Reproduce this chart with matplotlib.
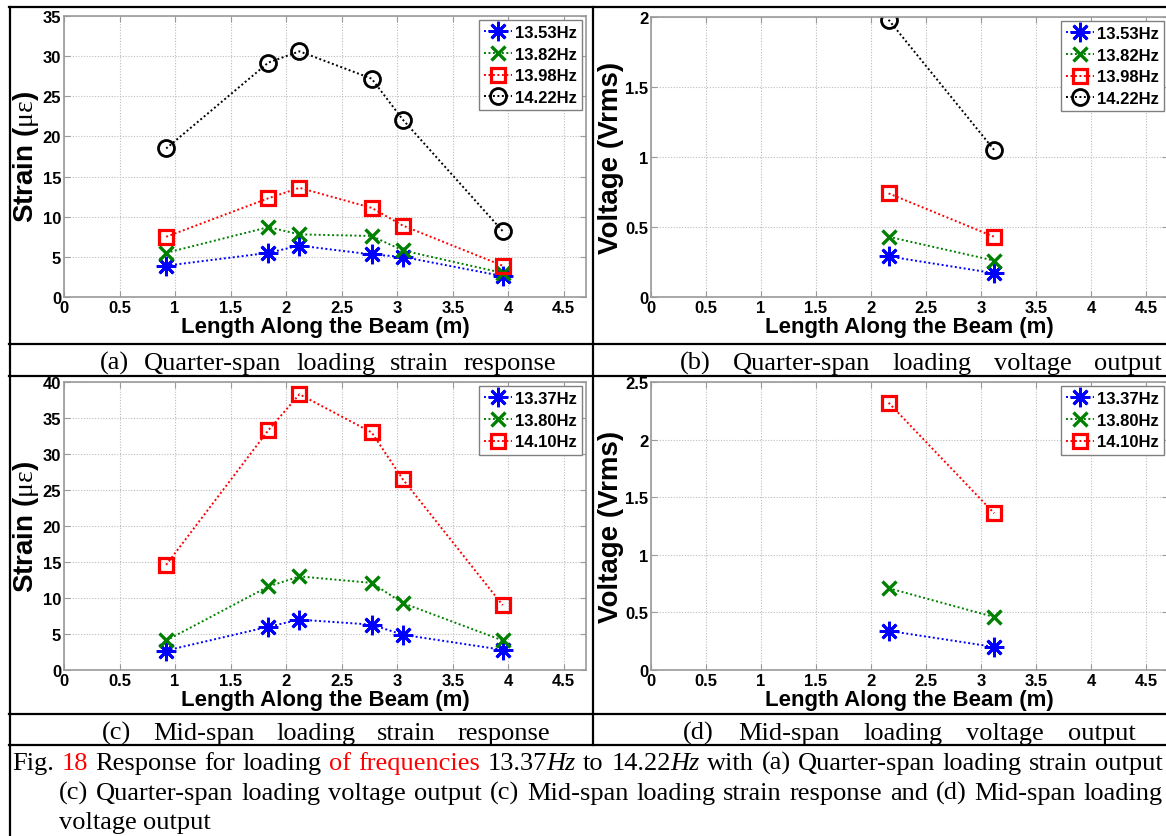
import matplotlib
matplotlib.use('Agg')
import matplotlib.pyplot as plt
from matplotlib.lines import Line2D
from matplotlib.ticker import FuncFormatter, MultipleLocator

# ---------------- data ----------------
x_strain = [0.92, 1.84, 2.12, 2.77, 3.05, 3.95]
x_volt = [2.16, 3.12]

quarter_labels = ['13.53Hz', '13.82Hz', '13.98Hz', '14.22Hz']
quarter_strain_1353 = [3.9, 5.5, 6.4, 5.3, 5.0, 2.6]
quarter_strain_1382 = [5.5, 8.7, 7.8, 7.6, 5.8, 3.0]
quarter_strain_1398 = [7.5, 12.3, 13.6, 11.1, 8.9, 3.9]
quarter_strain_1422 = [18.5, 29.2, 30.6, 27.2, 22.1, 8.2]
quarter_volt_1353 = [0.29, 0.17]
quarter_volt_1382 = [0.43, 0.26]
quarter_volt_1398 = [0.74, 0.43]
quarter_volt_1422 = [1.98, 1.05]

mid_labels = ['13.37Hz', '13.80Hz', '14.10Hz']
mid_strain_1337 = [2.7, 6.0, 7.0, 6.3, 4.9, 2.8]
mid_strain_1380 = [4.1, 11.6, 13.0, 12.1, 9.3, 4.1]
mid_strain_1410 = [14.6, 33.3, 38.3, 33.0, 26.5, 9.0]
mid_volt_1337 = [0.34, 0.20]
mid_volt_1380 = [0.71, 0.46]
mid_volt_1410 = [2.32, 1.36]

x_ticks = [0, 0.5, 1, 1.5, 2, 2.5, 3, 3.5, 4, 4.5]
x_label = 'Length Along the Beam (m)'
strain_label = r'Strain ($\mathrm{\mu\varepsilon}$)'
volt_label = 'Voltage (Vrms)'
panel_captions = ['(a) Quarter-span loading strain response',
                  '(b) Quarter-span loading voltage output',
                  '(c) Mid-span loading strain response',
                  '(d) Mid-span loading voltage output']

# ---------------- style ----------------
plt.rcParams['font.family'] = ['Liberation Sans', 'DejaVu Sans']
plt.rcParams['mathtext.fontset'] = 'custom'
plt.rcParams['mathtext.rm'] = 'Liberation Serif'
plt.rcParams['mathtext.it'] = 'Liberation Serif:italic'
plt.rcParams['mathtext.bf'] = 'Liberation Serif:bold'

W, H = 1166, 837
fig = plt.figure(figsize=(W / 100, H / 100), dpi=100)
fig.patch.set_facecolor('white')

STYLES = [
    dict(color='#0000ff', marker=(8, 2, 0), ms=14, mew=2.0),
    dict(color='#008000', marker='x', ms=10.5, mew=2.4),
    dict(color='#ff0000', marker='s', ms=9.5, mew=2.3, mfc='none'),
    dict(color='#000000', marker='o', ms=11.5, mew=2.0, mfc='none'),
]
LINE = dict(ls=(0, (1, 1.3)), lw=1.4)
GRAY = '#9a9a9a'


def make_axes(left, right, top, bottom):
    return fig.add_axes([left / W, 1 - bottom / H, (right - left) / W, (bottom - top) / H])


def style_axes(ax, ytop, ystep, ylabel):
    ax.set_xlim(0, 4.7)
    ax.set_ylim(0, ytop)
    ax.set_xticks(x_ticks)
    ax.yaxis.set_major_locator(MultipleLocator(ystep))
    fmt = FuncFormatter(lambda v, p: f'{v:g}')
    ax.xaxis.set_major_formatter(fmt)
    ax.yaxis.set_major_formatter(fmt)
    ax.tick_params(direction='in', length=4, width=0.8, color=GRAY,
                   top=True, right=True, labelsize=12, pad=2)
    for lab in ax.get_xticklabels() + ax.get_yticklabels():
        lab.set_fontweight('bold')
    for sp in ax.spines.values():
        sp.set_color(GRAY)
        sp.set_linewidth(1.2)
    ax.grid(True, ls=(0, (1, 1.5)), color='#bcbcbc', lw=0.8)
    ax.set_axisbelow(True)
    ax.set_xlabel(x_label, fontsize=16, fontweight='bold', labelpad=1)
    ax.set_ylabel(ylabel, fontsize=20, fontweight='bold', labelpad=1)


def legend(ax):
    leg = ax.legend(loc='upper right', prop={'weight': 'bold', 'size': 12},
                    frameon=True, fancybox=False, edgecolor='#808080', framealpha=1,
                    borderaxespad=0.25, borderpad=0.3, labelspacing=0.4,
                    handlelength=1.7, handletextpad=0.15, numpoints=1)
    leg.get_frame().set_linewidth(1.0)


# (a) quarter-span strain
axA = make_axes(64, 586, 17, 298)
for vals, lab, st in zip([quarter_strain_1353, quarter_strain_1382,
                          quarter_strain_1398, quarter_strain_1422],
                         quarter_labels, STYLES):
    axA.plot(x_strain, vals, label=lab, **LINE, **st)
style_axes(axA, 35, 5, strain_label)
legend(axA)

# (b) quarter-span voltage
axB = make_axes(651, 1168, 18, 298)
for vals, lab, st in zip([quarter_volt_1353, quarter_volt_1382,
                          quarter_volt_1398, quarter_volt_1422],
                         quarter_labels, STYLES):
    axB.plot(x_volt, vals, label=lab, **LINE, **st)
style_axes(axB, 2, 0.5, volt_label)
legend(axB)

# (c) mid-span strain
axC = make_axes(64, 586, 383, 671)
for vals, lab, st in zip([mid_strain_1337, mid_strain_1380, mid_strain_1410],
                         mid_labels, STYLES):
    axC.plot(x_strain, vals, label=lab, **LINE, **st)
style_axes(axC, 40, 5, strain_label)
legend(axC)

# (d) mid-span voltage
axD = make_axes(651, 1168, 383, 671)
for vals, lab, st in zip([mid_volt_1337, mid_volt_1380, mid_volt_1410],
                         mid_labels, STYLES):
    axD.plot(x_volt, vals, label=lab, **LINE, **st)
style_axes(axD, 2.5, 0.5, volt_label)
legend(axD)

# ---------------- table frame ----------------
def hline(y, x0=9, x1=1166, lw=1.6):
    fig.add_artist(Line2D([x0 / W, x1 / W], [1 - y / H, 1 - y / H], color='black', lw=lw))


def vline(x, y0, y1, lw=1.6):
    fig.add_artist(Line2D([x / W, x / W], [1 - y0 / H, 1 - y1 / H], color='black', lw=lw))


hline(8)
for yy in (345, 377, 715, 746):
    hline(yy)
vline(10, 8, 837)
vline(593, 8, 746)

# ---------------- captions ----------------
SERIF = 'Liberation Serif'
renderer = fig.canvas.get_renderer()


def W_(s, col='black', st='normal'):
    return [(s, col, st)]


def place_words(words, x0, y, size, x1=None):
    meas = []
    for word in words:
        parts = []
        total = 0
        for s, col, st in word:
            t = fig.text(0, 0, s, fontsize=size, family=SERIF, style=st, weight='normal')
            w = t.get_window_extent(renderer).width
            t.remove()
            parts.append((s, col, st, w))
            total += w
        meas.append((parts, total))
    tot = sum(m[1] for m in meas)
    if x1 is None or len(words) < 2:
        gap = size * 100 / 72 * 0.25
    else:
        gap = (x1 - x0 - tot) / (len(words) - 1)
    x = x0
    for parts, total in meas:
        for s, col, st, w in parts:
            fig.text(x / W, 1 - y / H, s, fontsize=size, family=SERIF, style=st,
                     weight='normal', color=col, ha='left', va='baseline')
            x += w
        x += gap


def simple_words(text):
    return [W_(s) for s in text.split()]


place_words(simple_words(panel_captions[0]), 100, 370, 19, 556)
place_words(simple_words(panel_captions[1]), 680, 370, 19, 1162)
place_words(simple_words(panel_captions[2]), 102, 740, 19, 550)
place_words(simple_words(panel_captions[3]), 683, 740, 19, 1136)

RED = '#ff0000'
line1 = [W_('Fig.'), W_('18', RED), W_('Response'), W_('for'), W_('loading'),
         W_('of', RED), W_('frequencies', RED),
         [('13.37', 'black', 'normal'), ('Hz', 'black', 'italic')],
         W_('to'),
         [('14.22', 'black', 'normal'), ('Hz', 'black', 'italic')],
         W_('with'), W_('(a)'), W_('Quarter-span'), W_('loading'), W_('strain'), W_('output')]
line2 = simple_words('(c) Quarter-span loading voltage output (c) Mid-span loading '
                     'strain response and (d) Mid-span loading')
line3 = simple_words('voltage output')
place_words(line1, 12, 770, 19, 1163)
place_words(line2, 59, 800, 19, 1163)
place_words(line3, 59, 829, 19)

fig.savefig('out.png', dpi=100, facecolor='white')
